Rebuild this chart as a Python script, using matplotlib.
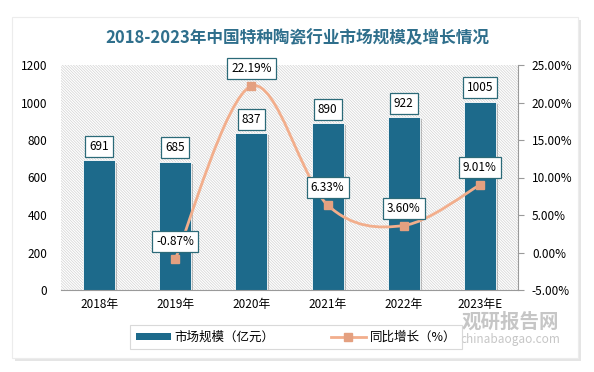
import numpy as np
import matplotlib
matplotlib.use("Agg")
import matplotlib.pyplot as plt
from matplotlib.path import Path
from matplotlib.patches import PathPatch, Rectangle, Patch
from matplotlib.lines import Line2D
import matplotlib.patheffects as pe

plt.rcParams['font.family'] = ['Noto Sans CJK SC', 'DejaVu Sans']
plt.rcParams['hatch.linewidth'] = 0.5
plt.rcParams['hatch.color'] = '#d2d2d2'

# data
years = ['2018年', '2019年', '2020年', '2021年', '2022年', '2023年E']
market = [691, 685, 837, 890, 922, 1005]
growth = [None, -0.87, 22.19, 6.33, 3.60, 9.01]

bar_color = '#1d6a8b'
line_color = '#f2ae8c'
marker_color = '#e4a080'
box_edge = '#2b6a78'

fig = plt.figure(figsize=(5.94, 3.72), dpi=100)
fig.patch.set_facecolor('white')

# card with shadow
card = Rectangle((12 / 594, 1 - 358 / 372), 566 / 594, 341 / 372,
                 transform=fig.transFigure, facecolor='white', edgecolor='#ececec',
                 lw=0.8, zorder=-10,
                 path_effects=[pe.SimplePatchShadow(offset=(2, -2), shadow_rgbFace='#999999', alpha=0.25),
                               pe.Normal()])
fig.patches.append(card)

ax = fig.add_axes([61 / 594, 1 - 290 / 372, 457 / 594, 225 / 372])
ax.set_facecolor('none')
ax.add_patch(Rectangle((0, 0), 1, 1, transform=ax.transAxes, facecolor='white',
                       hatch='\\' * 12, edgecolor='#d2d2d2', lw=0, zorder=0))

x = np.arange(len(years))
bars = ax.bar(x, market, width=0.42, color=bar_color, edgecolor='white', lw=0.6, zorder=2,
              path_effects=[pe.SimplePatchShadow(offset=(1.5, -1.5), shadow_rgbFace='#555555', alpha=0.35),
                            pe.Normal()])
ax.set_xlim(-0.5, len(years) - 0.5)
ax.set_ylim(0, 1200)
ax.set_yticks(range(0, 1201, 200))
ax.set_xticks(x)
ax.set_xticklabels(years, fontsize=8.5)
ax.tick_params(axis='y', length=0, labelsize=8.5, pad=10)
ax.tick_params(axis='x', length=0, pad=6)
for s in ['top', 'right', 'left']:
    ax.spines[s].set_visible(False)
ax.spines['bottom'].set_color('#9a9a9a')

for xi, v in zip(x, market):
    ax.annotate(str(v), (xi, v), xytext=(0, 10), textcoords='offset points',
                ha='center', va='center', fontsize=8.5, zorder=5,
                bbox=dict(boxstyle='square,pad=0.35', fc='white', ec=box_edge, lw=0.9))

ax2 = ax.twinx()
ax2.set_ylim(-5, 25)
ax2.set_yticks(range(-5, 26, 5))
ax2.set_yticklabels(['%.2f%%' % t for t in range(-5, 26, 5)])
ax2.tick_params(axis='y', labelsize=8.5, length=4, color='#9a9a9a', pad=6)
for s in ['top', 'left', 'bottom']:
    ax2.spines[s].set_visible(False)
ax2.spines['right'].set_color('#9a9a9a')

# smooth line (bezier through the points)
gx = [xi for xi, g in zip(x, growth) if g is not None]
gy = [g for g in growth if g is not None]
pts = np.column_stack([gx, gy]).astype(float)
verts = [pts[0]]
codes = [Path.MOVETO]
n = len(pts)
for i in range(n - 1):
    p0 = pts[i - 1] if i > 0 else pts[i]
    p1 = pts[i]
    p2 = pts[i + 1]
    p3 = pts[i + 2] if i + 2 < n else pts[i + 1]
    verts += [p1 + (p2 - p0) / 6, p2 - (p3 - p1) / 6, p2]
    codes += [Path.CURVE4] * 3
ax2.add_patch(PathPatch(Path(verts, codes), fill=False, ec=line_color, lw=2, zorder=3))
ax2.plot(gx, gy, ls='none', marker='s', ms=5.5, color=marker_color, zorder=4)

for xi, g in zip(gx, gy):
    ax2.annotate('%.2f%%' % g, (xi, g), xytext=(0, 12.5), textcoords='offset points',
                 ha='center', va='center', fontsize=8.5, zorder=6,
                 bbox=dict(boxstyle='square,pad=0.35', fc='white', ec=box_edge, lw=0.9))

fig.text(0.5, 1 - 38 / 372, '2018-2023年中国特种陶瓷行业市场规模及增长情况',
         ha='center', va='center', fontsize=12, fontweight='bold', color='#2f6f8c')

handles = [Patch(facecolor=bar_color, label='市场规模（亿元）'),
           Line2D([0], [0], color=line_color, lw=2, marker='s', ms=5.5,
                  markerfacecolor=marker_color, markeredgecolor=marker_color, label='同比增长（%）')]
leg = fig.legend(handles=handles, loc='center', bbox_to_anchor=(296 / 594, 1 - 337 / 372),
                 ncol=2, fontsize=9, frameon=True, fancybox=False, edgecolor='#d0d0d0',
                 handlelength=2.8, handleheight=0.5, columnspacing=4.5, borderpad=0.45,
                 handletextpad=0.3)
leg.get_frame().set_linewidth(0.8)

# watermark
fig.text(510 / 594, 1 - 322 / 372, '观研报告网', ha='center', va='center', fontsize=14,
         fontweight='bold', color='#b8b8b8', alpha=0.8)
fig.text(510 / 594, 1 - 340 / 372, 'chinabaogao.com', ha='center', va='center', fontsize=8.5,
         color='#b8b8b8', alpha=0.8)

fig.savefig('out.png', dpi=100)
